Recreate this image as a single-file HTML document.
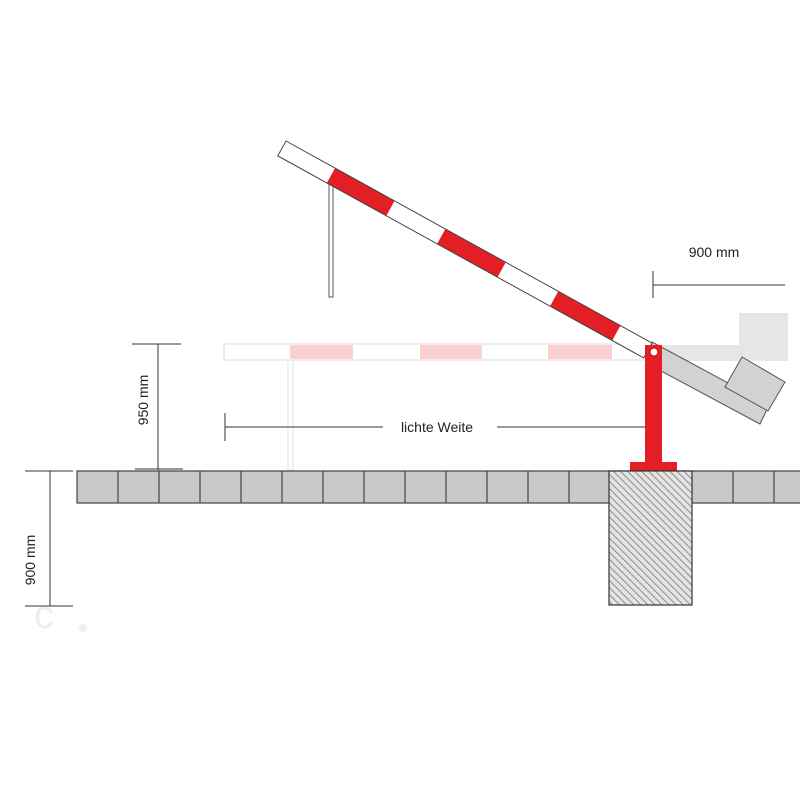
<!DOCTYPE html>
<html><head><meta charset="utf-8"><style>html,body{margin:0;padding:0;background:#fff}</style></head>
<body>
<svg width="800" height="800" viewBox="0 0 800 800" xmlns="http://www.w3.org/2000/svg" font-family="Liberation Sans, sans-serif">
<defs>
<pattern id="h" width="5" height="5" patternUnits="userSpaceOnUse" patternTransform="rotate(-45)">
<rect width="5" height="5" fill="#e4e4e4"/><line x1="0" y1="0" x2="0" y2="5" stroke="#777" stroke-width="1.6"/>
</pattern>
</defs>
<rect width="800" height="800" fill="#fff"/>
<polygon points="655,345 739,345 739,313 788,313 788,361 655,361" fill="#e6e6e6"/>
<rect x="224" y="344" width="431" height="16" fill="#fff" stroke="#ddd" stroke-width="1"/>
<rect x="290" y="345" width="63" height="14" fill="#fbd0d3"/>
<rect x="420" y="345" width="62" height="14" fill="#fbd0d3"/>
<rect x="548" y="345" width="64" height="14" fill="#fbd0d3"/>
<rect x="288" y="360" width="5" height="110" fill="#fff" stroke="#e2e2e2" stroke-width="1"/>
<polygon points="652,342 769,405 760,424 648,364" fill="#d2d2d2" stroke="#555" stroke-width="1"/>
<polygon points="742,357 785,382 768,411 725,387" fill="#d2d2d2" stroke="#555" stroke-width="1"/>
<rect x="329" y="178" width="4" height="119" fill="#fff" stroke="#555" stroke-width="1"/>
<g transform="translate(286,141) rotate(28.9)">
<rect x="0" y="0" width="418" height="17" fill="#fff"/>
<rect x="56" y="0" width="68" height="17" fill="#e31e25"/>
<rect x="182" y="0" width="69" height="17" fill="#e31e25"/>
<rect x="311" y="0" width="71" height="17" fill="#e31e25"/>
<rect x="0" y="0" width="418" height="17" fill="none" stroke="#444" stroke-width="1"/>
</g>
<rect x="645" y="345" width="17" height="118" fill="#e31e25"/>
<rect x="630" y="462" width="47" height="9" fill="#e31e25"/>
<circle cx="654" cy="352" r="4" fill="#fff" stroke="#c00" stroke-width="1"/>
<rect x="77" y="471" width="730" height="32" fill="#c8c8c8" stroke="#444" stroke-width="1.2"/>
<g stroke="#444" stroke-width="1.2">
<line x1="118" y1="471" x2="118" y2="503"/><line x1="159" y1="471" x2="159" y2="503"/>
<line x1="200" y1="471" x2="200" y2="503"/><line x1="241" y1="471" x2="241" y2="503"/>
<line x1="282" y1="471" x2="282" y2="503"/><line x1="323" y1="471" x2="323" y2="503"/>
<line x1="364" y1="471" x2="364" y2="503"/><line x1="405" y1="471" x2="405" y2="503"/>
<line x1="446" y1="471" x2="446" y2="503"/><line x1="487" y1="471" x2="487" y2="503"/>
<line x1="528" y1="471" x2="528" y2="503"/><line x1="569" y1="471" x2="569" y2="503"/>
<line x1="733" y1="471" x2="733" y2="503"/><line x1="774" y1="471" x2="774" y2="503"/>
</g>
<rect x="609" y="471" width="83" height="134" fill="url(#h)" stroke="#333" stroke-width="1.2"/>
<g stroke="#333" stroke-width="1">
<line x1="132" y1="344" x2="181" y2="344"/><line x1="158" y1="344" x2="158" y2="470"/>
<line x1="135" y1="469" x2="183" y2="469"/>
<line x1="25" y1="471" x2="73" y2="471"/><line x1="50" y1="471" x2="50" y2="606"/>
<line x1="25" y1="606" x2="73" y2="606"/>
<line x1="225" y1="413" x2="225" y2="441"/><line x1="225" y1="427" x2="383" y2="427"/>
<line x1="497" y1="427" x2="645" y2="427"/>
<line x1="653" y1="271" x2="653" y2="298"/><line x1="653" y1="285" x2="785" y2="285"/>
</g>
<g fill="#222" font-size="14">
<text x="437" y="432" text-anchor="middle">lichte Weite</text>
<text x="714" y="257" text-anchor="middle">900 mm</text>
<text transform="translate(148,400) rotate(-90)" text-anchor="middle">950 mm</text>
<text transform="translate(35,560) rotate(-90)" text-anchor="middle">900 mm</text>
</g>
<text x="34" y="628" font-size="40" fill="#eee">c</text>
<circle cx="83" cy="628" r="4" fill="#eee"/>
</svg>
</body></html>
